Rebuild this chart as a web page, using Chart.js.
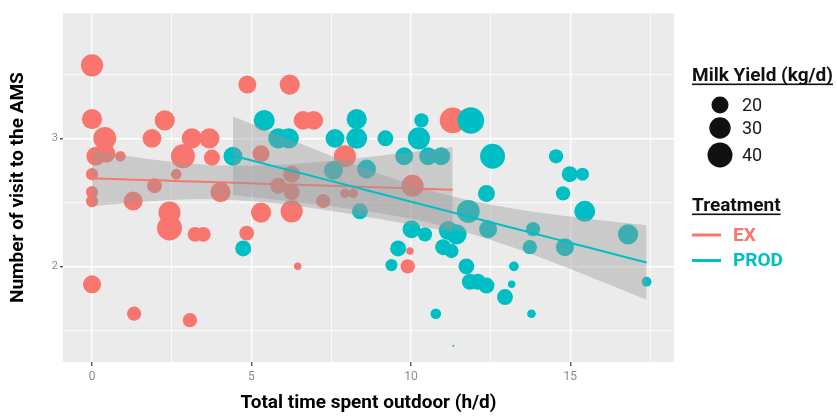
<!DOCTYPE html>
<html><head><meta charset="utf-8">
<script src="https://cdn.jsdelivr.net/npm/chart.js@4.4.0/dist/chart.umd.min.js"></script>
<style>html,body{margin:0;padding:0;background:#fff;}canvas{display:block;}</style>
</head><body>
<canvas id="c" width="837" height="416"></canvas>
<script>
// ---- data ----
const exTime   = [0.00,4.87,6.20,0.00,2.28,6.62,6.95,11.31,0.40,1.88,3.13,3.68,0.12,0.45,0.89,2.85,3.76,5.30,7.93,0.00,2.64,1.96,5.84,10.05,0.00,0.00,1.29,4.03,6.26,7.25,7.93,8.19,2.43,2.43,3.23,3.49,5.30,6.26,4.85,6.45,9.97,9.90,0.00,1.32,3.07,6.26];
const exVisits = [3.57,3.42,3.42,3.15,3.14,3.14,3.14,3.14,3.00,3.00,3.00,3.00,2.86,2.88,2.86,2.86,2.85,2.88,2.86,2.72,2.72,2.63,2.63,2.63,2.58,2.51,2.51,2.58,2.58,2.51,2.57,2.57,2.42,2.30,2.25,2.25,2.42,2.43,2.26,2.00,2.12,2.00,1.86,1.63,1.58,2.72];
const exMilk   = [32,22,27,27,27,24,24,43,34,24,27,27,24,22,10,37,18,20,32,12,10,16,18,32,12,12,24,27,18,15,9,9,32,40,16,16,27,32,16,7,7,15,22,15,15,20];

const prodTime   = [5.40,5.84,6.17,8.30,7.62,8.30,9.20,10.33,10.25,11.88,4.42,9.79,10.54,10.95,12.56,14.55,7.57,8.61,14.98,15.38,12.37,14.77,8.40,11.80,15.45,4.74,10.02,10.44,11.17,11.43,11.01,11.27,12.42,13.83,13.73,14.83,16.81,17.39,9.60,9.39,11.74,11.85,12.10,12.37,13.23,13.16,12.95,10.78,13.78,11.33];
const prodVisits = [3.14,3.00,3.00,3.15,3.00,3.00,3.00,3.14,3.00,3.14,2.86,2.86,2.86,2.86,2.86,2.86,2.75,2.76,2.72,2.72,2.57,2.57,2.43,2.43,2.43,2.14,2.29,2.25,2.28,2.25,2.15,2.12,2.29,2.29,2.15,2.15,2.25,1.88,2.14,2.01,2.00,1.88,1.88,1.85,2.00,1.86,1.76,1.63,1.63,1.38];
const prodMilk   = [29,27,27,27,24,29,18,15,32,45,24,22,22,22,40,15,24,24,18,13,20,15,18,34,29,18,22,15,24,27,18,15,22,15,15,22,27,9,18,12,18,18,18,18,9,7,18,10,8,5];

const treatments = ['EX','PROD'];
const xTickLabels = [0,5,10,15];
const xGrid = [0,2.5,5,7.5,10,12.5,15,17.5];
const yTickLabels = [2,3];
const yGrid = [1.5,2,2.5,3,3.5];
const milkLegend = [20,30,40];

// ---- styles ----
const RED = '#F8766D', TEAL = '#00BFC4';
const FONT = 'Roboto';

function milkRadius(v){ // area-style size scale
  const t = Math.max(0, (v - 5) / 45);
  return 1 + 13 * Math.sqrt(t);
}

function lmBand(xs, ys){
  const n = xs.length;
  const mx = xs.reduce((a,b)=>a+b,0)/n, my = ys.reduce((a,b)=>a+b,0)/n;
  let sxx=0, sxy=0;
  for(let i=0;i<n;i++){ sxx += (xs[i]-mx)**2; sxy += (xs[i]-mx)*(ys[i]-my); }
  const b = sxy/sxx, a = my - b*mx;
  let sse = 0;
  for(let i=0;i<n;i++){ sse += (ys[i]-a-b*xs[i])**2; }
  const s = Math.sqrt(sse/(n-2)), t = 2.01;
  const ux = Array.from(new Set(xs)).sort((p,q)=>p-q);
  return ux.map(x=>{
    const yh = a + b*x, se = s*Math.sqrt(1/n + (x-mx)**2/sxx);
    return {x, y: yh, lo: yh - t*se, hi: yh + t*se};
  });
}

const exFit = lmBand(exTime, exVisits);
const prodFit = lmBand(prodTime, prodVisits);
const BAND = 'rgba(153,153,153,0.4)';

function pts(xs, ys, ms){ return xs.map((x,i)=>({x, y: ys[i], r: milkRadius(ms[i])})); }

const panelBg = {
  id: 'panelBg',
  beforeDraw(chart){
    const {ctx, chartArea:a} = chart;
    ctx.save(); ctx.fillStyle = '#EBEBEB';
    ctx.fillRect(a.left, a.top, a.right-a.left, a.bottom-a.top);
    ctx.restore();
  }
};

const sideLegend = {
  id: 'sideLegend',
  afterDraw(chart){
    const ctx = chart.ctx;
    ctx.save();
    const x0 = 692;
    function title(text, baseY){
      ctx.font = `bold 19px ${FONT}`;
      ctx.fillStyle = '#111';
      ctx.textAlign = 'left'; ctx.textBaseline = 'alphabetic';
      ctx.fillText(text, x0, baseY);
      const w = ctx.measureText(text).width;
      ctx.fillRect(x0, baseY + 2.5, w, 1.6);
    }
    title('Milk Yield (kg/d)', 81);
    const ys = [105, 128, 155];
    milkLegend.forEach((v,i)=>{
      ctx.fillStyle = '#111';
      ctx.beginPath(); ctx.arc(720, ys[i], milkRadius(v), 0, Math.PI*2); ctx.fill();
      ctx.font = `18px ${FONT}`;
      ctx.fillStyle = '#1a1a1a'; ctx.textBaseline = 'middle';
      ctx.fillText(String(v), 742, ys[i] + 1);
    });
    ctx.textBaseline = 'alphabetic';
    title('Treatment', 211);
    const cols = [RED, TEAL], ly = [235, 260.5];
    treatments.forEach((t,i)=>{
      ctx.strokeStyle = cols[i]; ctx.lineWidth = 3;
      ctx.beginPath(); ctx.moveTo(692, ly[i]); ctx.lineTo(721, ly[i]); ctx.stroke();
      ctx.font = `bold 19px ${FONT}`; ctx.fillStyle = cols[i]; ctx.textBaseline = 'middle';
      ctx.fillText(t, 733, ly[i] + 1);
    });
    ctx.restore();
  }
};

new Chart(document.getElementById('c'), {
  type: 'bubble',
  data: {
    datasets: [
      {label:'EX', data: pts(exTime, exVisits, exMilk), backgroundColor: RED, borderWidth: 0, order: 6},
      {label:'PROD', data: pts(prodTime, prodVisits, prodMilk), backgroundColor: TEAL, borderWidth: 0, order: 5},
      {type:'line', data: exFit.map(p=>({x:p.x, y:p.hi})), borderWidth: 0, pointRadius: 0, fill: false, order: 4},
      {type:'line', data: exFit.map(p=>({x:p.x, y:p.lo})), borderWidth: 0, pointRadius: 0, fill: {target: 2}, backgroundColor: BAND, order: 4},
      {type:'line', data: exFit.map(p=>({x:p.x, y:p.y})), borderColor: RED, borderWidth: 2, pointRadius: 0, fill: false, order: 3},
      {type:'line', data: prodFit.map(p=>({x:p.x, y:p.hi})), borderWidth: 0, pointRadius: 0, fill: false, order: 2},
      {type:'line', data: prodFit.map(p=>({x:p.x, y:p.lo})), borderWidth: 0, pointRadius: 0, fill: {target: 5}, backgroundColor: BAND, order: 2},
      {type:'line', data: prodFit.map(p=>({x:p.x, y:p.y})), borderColor: TEAL, borderWidth: 2, pointRadius: 0, fill: false, order: 1}
    ]
  },
  options: {
    responsive: false,
    animation: false,
    events: [],
    layout: {padding: {left: 0, right: 163, top: 12, bottom: 0}},
    plugins: {legend: {display: false}, tooltip: {enabled: false}},
    scales: {
      x: {
        type: 'linear', min: -0.91, max: 18.25,
        afterBuildTicks: s => { s.ticks = xGrid.map(v=>({value: v})); },
        afterFit: s => { s.height = 54; },
        border: {display: false},
        grid: {
          color: '#FFFFFF',
          lineWidth: c => xTickLabels.includes(c.tick && c.tick.value) ? 1.4 : 0.8,
          tickColor: c => xTickLabels.includes(c.tick && c.tick.value) ? '#555' : 'rgba(0,0,0,0)',
          tickLength: 4, drawTicks: true
        },
        ticks: {
          autoSkip: false, maxRotation: 0, padding: 4,
          color: '#8a8a8a', font: {family: FONT, size: 12},
          callback: v => xTickLabels.includes(v) ? String(v) : ''
        },
        title: {display: true, text: 'Total time spent outdoor (h/d)', color: '#000',
                font: {family: FONT, size: 19, weight: 'bold'}, padding: {top: 0, bottom: 1}}
      },
      y: {
        type: 'linear', min: 1.253, max: 3.977,
        afterBuildTicks: s => { s.ticks = yGrid.map(v=>({value: v})); },
        afterFit: s => { s.width = 63; },
        border: {display: false},
        grid: {
          color: '#FFFFFF',
          lineWidth: c => yTickLabels.includes(c.tick && c.tick.value) ? 1.4 : 0.8,
          tickColor: c => yTickLabels.includes(c.tick && c.tick.value) ? '#555' : 'rgba(0,0,0,0)',
          tickLength: 3, drawTicks: true
        },
        ticks: {
          autoSkip: false, padding: 2,
          color: '#8a8a8a', font: {family: FONT, size: 11},
          callback: v => yTickLabels.includes(v) ? String(v) : ''
        },
        title: {display: true, text: 'Number of visit to the AMS', color: '#000',
                font: {family: FONT, size: 19, weight: 'bold'}, padding: {top: 7, bottom: 0}}
      }
    }
  },
  plugins: [panelBg, sideLegend]
});
</script>
</body></html>
